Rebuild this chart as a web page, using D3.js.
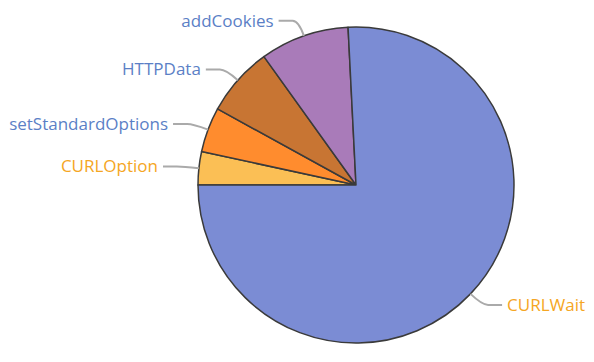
<!DOCTYPE html>
<html lang="en">
    <head>
        <meta charset="utf-8">
        <title>Pie Chart</title>
        <script type="text/javascript" src="https://cdn.jsdelivr.net/npm/d3@7"></script>
        <style type="text/css">
            body { margin: 0; background: #fff; }
            text { font-family: "Open Sans", sans-serif; }
        </style>
    </head>

    <body>
        <script type="text/javascript">
            var categories = ["CURLOption", "setStandardOptions", "HTTPData", "addCookies", "CURLWait"];
            var values = [3.4, 4.6, 7.1, 9.1, 75.8];

            // Establish dimensions of svg
            var w = 594;
            var h = 362;
            var cx = 356, cy = 185;
            var radius = 158;
            var len1 = 16, len2 = 20;

            var fill = d3.scaleOrdinal()
                .domain(categories)
                .range(["#fbbf55", "#ff8c2e", "#c87533", "#a97bb9", "#7b8cd4"]);
            var labelColor = d3.scaleOrdinal()
                .domain(categories)
                .range(["#f5a623", "#5b7fc6", "#5b7fc6", "#5b7fc6", "#f5a623"]);

            var svg = d3.select("body")
                        .append("svg")
                        .attr("width", w)
                        .attr("height", h);

            var g = svg.append("g").attr("transform", "translate(" + cx + "," + cy + ")");

            // Start at 9 o'clock and go clockwise
            var pie = d3.pie()
                .sort(null)
                .startAngle(-Math.PI / 2)
                .endAngle(Math.PI * 1.5);

            var arcs = pie(values);
            var arc = d3.arc().innerRadius(0).outerRadius(radius);

            g.selectAll("path.slice")
                .data(arcs)
                .enter()
                .append("path")
                .attr("class", "slice")
                .attr("d", arc)
                .attr("fill", function(d, i) { return fill(categories[i]); })
                .attr("stroke", "#3a3a3a")
                .attr("stroke-width", 1.5)
                .attr("stroke-linejoin", "round");

            // Label lines: radial piece, then horizontal
            function pt(a, r) { return [Math.sin(a) * r, -Math.cos(a) * r]; }

            arcs.forEach(function(d, i) {
                var a = (d.startAngle + d.endAngle) / 2;
                var p0 = pt(a, radius);
                var p1 = pt(a, radius + len1);
                var dir = Math.sin(a) < 0 ? -1 : 1;
                var p2 = [p1[0] + dir * len2, p1[1]];
                var mid = [p1[0] + dir * 6, p1[1]];

                g.append("path")
                    .attr("d", "M" + p0 + "Q" + p1 + " " + mid + "L" + p2)
                    .attr("fill", "none")
                    .attr("stroke", "#aaa")
                    .attr("stroke-width", 2);

                g.append("text")
                    .text(categories[i])
                    .attr("x", p2[0] + dir * 5)
                    .attr("y", p2[1])
                    .attr("dy", "0.35em")
                    .attr("text-anchor", dir < 0 ? "end" : "start")
                    .attr("font-size", "17px")
                    .attr("fill", labelColor(categories[i]));
            });
        </script>
    </body>
</html>
